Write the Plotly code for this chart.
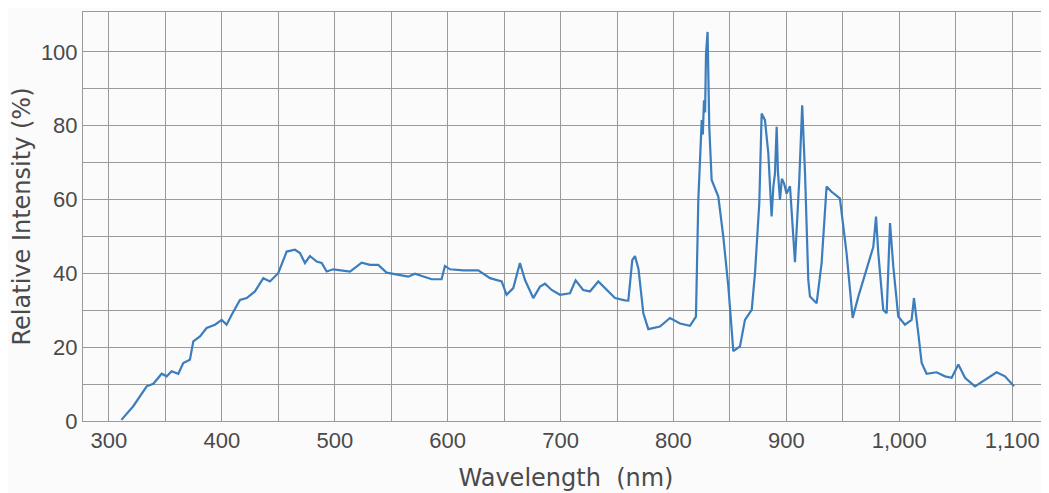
import plotly.graph_objects as go

wavelength_nm = [
    311, 321.5, 333.4, 339.3, 346.7, 351.1, 355.5, 361.4, 365.8, 371.7,
    374.7, 380.6, 386.5, 393.9, 399.8, 404.2, 408.7, 416, 422, 429.3,
    436.7, 442.6, 450, 453, 457.4, 464.7, 469.2, 473.6, 478, 484,
    488.4, 492.8, 498.7, 513.5, 523.8, 531.2, 538.5, 545.9, 554.8, 565.1,
    571, 578.4, 585.8, 594.6, 597.6, 602, 613.8, 627.1, 637.5, 647.8,
    652.2, 658.1, 664, 668.5, 675.8, 681.8, 686.2, 692.1, 699.5, 708.3,
    713.3, 720, 726, 733.4, 740.8, 748.2, 757, 760, 763.5, 765.9,
    769, 773.3, 777.7, 788, 796.9, 805.8, 814.6, 819.9, 822, 825,
    826, 827, 828, 828.8, 830.2, 831, 831.7, 833.8, 839.7, 844.1,
    848.6, 853, 858.9, 863.3, 869.3, 872.2, 876, 878.1, 881, 884,
    886.9, 888.5, 889.9, 891.4, 892.5, 894.3, 896, 897.9, 900.2, 903.2,
    907.6, 911.4, 914, 916.5, 919.4, 920.9, 926.8, 931.2, 935.6, 940,
    947.4, 953.3, 958.7, 963.7, 971.1, 977, 979.4, 981.4, 985.8, 988.8,
    991.8, 994.7, 999.1, 1005, 1010.9, 1013, 1016.8, 1019.8, 1024.2, 1033,
    1040.5, 1046.4, 1052.3, 1058.2, 1067, 1074.4, 1086.2, 1093.6, 1101.6,
]

relative_intensity = [
    0.3, 4.0, 9.4, 10.1, 12.8, 12.1, 13.5, 12.8, 15.7, 16.6,
    21.6, 22.9, 25.2, 26.1, 27.4, 26.1, 28.8, 32.8, 33.3, 35.1,
    38.7, 37.8, 40.1, 42.3, 45.9, 46.4, 45.5, 42.8, 44.7, 43.2,
    42.8, 40.5, 41.1, 40.5, 42.9, 42.3, 42.3, 40.2, 39.6, 39.1,
    39.9, 39.1, 38.4, 38.4, 42.0, 41.1, 40.8, 40.8, 38.7, 37.8,
    34.2, 36.0, 42.8, 38.2, 33.3, 36.4, 37.2, 35.5, 34.2, 34.6,
    38.1, 35.5, 35.1, 37.8, 35.5, 33.3, 32.7, 32.6, 43.6, 44.7,
    41.2, 29.2, 24.9, 25.6, 27.9, 26.4, 25.8, 28.3, 59.9, 81.5,
    77.6, 86.9, 83.6, 99.5, 105.4, 89.6, 79.7, 65.3, 60.8, 50.0,
    36.4, 18.9, 20.2, 27.4, 30.1, 40.1, 59.0, 83.3, 81.5, 72.5,
    55.4, 63.6, 67.1, 79.7, 67.6, 59.9, 65.6, 64.4, 61.6, 63.6,
    43.0, 65.3, 85.5, 67.1, 38.2, 33.7, 31.9, 42.8, 63.5, 62.1,
    60.3, 45.5, 27.9, 33.7, 41.0, 47.2, 55.4, 45.5, 30.1, 29.2,
    53.6, 41.8, 28.3, 26.1, 27.4, 33.3, 23.8, 15.7, 12.8, 13.2,
    12.1, 11.7, 15.3, 11.7, 9.4, 10.8, 13.2, 12.1, 9.4,
]

x_tick_values = [300, 350, 400, 450, 500, 550, 600, 650, 700, 750,
                 800, 850, 900, 950, 1000, 1050, 1100]
x_tick_labels = ["300", "", "400", "", "500", "", "600", "", "700", "",
                 "800", "", "900", "", "1,000", "", "1,100"]
y_tick_values = [0, 10, 20, 30, 40, 50, 60, 70, 80, 90, 100]
y_tick_labels = ["0", "", "20", "", "40", "", "60", "", "80", "", "100"]

grid_color = "#9a9a9a"
tick_font = dict(family="Liberation Sans, Arial, sans-serif", size=22, color="#4a4a4a")
title_font = dict(family="DejaVu Sans, sans-serif", size=24, color="#4a4a4a")

fig = go.Figure()
fig.add_trace(go.Scatter(
    x=wavelength_nm,
    y=relative_intensity,
    mode="lines",
    line=dict(color="#3b7dbd", width=2.2),
    showlegend=False,
    hoverinfo="x+y",
))

fig.update_layout(
    width=1041,
    height=485,
    margin=dict(l=75, r=0, t=4, b=72),
    paper_bgcolor="#fbfbfb",
    plot_bgcolor="#fbfbfb",
    xaxis=dict(
        range=[277, 1132.6],
        tickmode="array",
        tickvals=x_tick_values,
        ticktext=x_tick_labels,
        showgrid=True,
        gridcolor=grid_color,
        gridwidth=1,
        zeroline=False,
        showline=True,
        linecolor=grid_color,
        linewidth=1,
        mirror=True,
        ticks="",
        automargin=False,
        tickfont=tick_font,
        ticklabelstandoff=0,
        title=dict(text="Wavelength  (nm)", font=title_font, standoff=16),
    ),
    yaxis=dict(
        range=[0, 110.8],
        tickmode="array",
        tickvals=y_tick_values,
        ticktext=y_tick_labels,
        showgrid=True,
        gridcolor=grid_color,
        gridwidth=1,
        zeroline=False,
        showline=True,
        linecolor=grid_color,
        linewidth=1,
        mirror=False,
        ticks="",
        automargin=False,
        tickfont=tick_font,
        ticklabelstandoff=0,
        title=dict(text="Relative Intensity (%)", font=title_font, standoff=6),
    ),
)

fig.write_html("out.html")
